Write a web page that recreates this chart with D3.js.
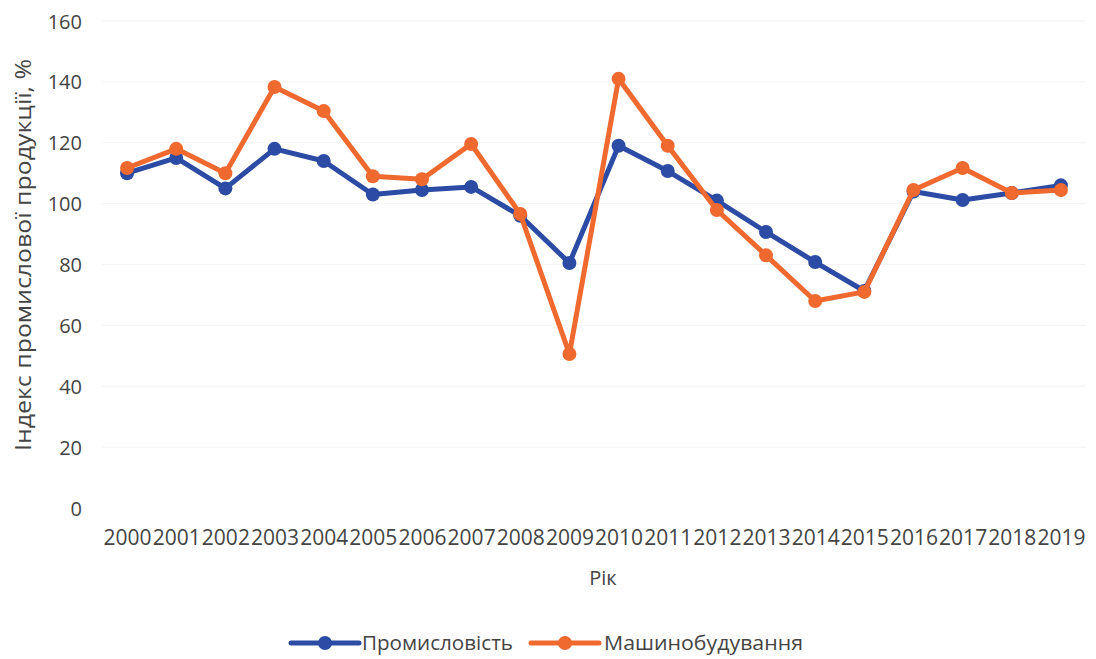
<!DOCTYPE html>
<html>
<head>
<meta charset="utf-8">
<script src="https://cdn.jsdelivr.net/npm/d3@7"></script>
<style>
  html, body { margin: 0; padding: 0; background: #fff; }
  svg { display: block; }
  text { font-family: "Open Sans", sans-serif; fill: #444; }
</style>
</head>
<body>
<svg id="chart" width="1096" height="659"></svg>
<script>
const years = ["2000","2001","2002","2003","2004","2005","2006","2007","2008","2009",
               "2010","2011","2012","2013","2014","2015","2016","2017","2018","2019"];
const industry = [110, 115, 105, 118, 114, 103, 104.5, 105.5, 96, 80.5,
                  119, 110.7, 101, 90.7, 80.8, 71.3, 104, 101.2, 103.5, 106];
const machinery = [111.7, 118, 110, 138.3, 130.4, 109, 108, 119.6, 96.6, 50.6,
                   141, 119, 97.9, 83, 68, 71, 104.5, 111.7, 103.5, 104.5];
const yTicks = [0, 20, 40, 60, 80, 100, 120, 140, 160];
const seriesNames = ["Промисловість", "Машинобудування"];
const yTitle = "Індекс промислової продукції, %";
const xTitle = "Рік";

const colors = ["#2b4ba4", "#f0692f"];
const svg = d3.select("#chart");

const x = d3.scalePoint().domain(years).range([102.5, 1085.5]).padding(0.5);
const y = d3.scaleLinear().domain([0, 160]).range([508, 21]);

// gridlines (very faint, as in the scanned original)
svg.append("g").selectAll("line").data(yTicks.filter(d => d > 0)).join("line")
  .attr("x1", 102).attr("x2", 1086)
  .attr("y1", d => y(d)).attr("y2", d => y(d))
  .attr("stroke", "#f3f3f3").attr("stroke-width", 1);

// y axis labels
const yAxis = d3.axisLeft(y).tickValues(yTicks).tickSize(0).tickPadding(0);
const gy = svg.append("g").attr("transform", "translate(82,0)").call(yAxis);
gy.select(".domain").remove();
gy.selectAll("text").style("font-size", "20px").attr("fill", "#444").attr("dy", "0.35em");

// x axis labels
const xAxis = d3.axisBottom(x).tickSize(0).tickPadding(0);
const gx = svg.append("g").attr("transform", "translate(0,530)").call(xAxis);
gx.select(".domain").remove();
gx.selectAll("text").style("font-size", "21px").attr("fill", "#333").attr("dy", "0.71em");

// axis titles
svg.append("text").attr("transform", "translate(31,255) rotate(-90)")
  .attr("text-anchor", "middle").style("font-size", "21px").attr("fill", "#444")
  .attr("textLength", 392).attr("lengthAdjust", "spacingAndGlyphs")
  .text(yTitle);
svg.append("text").attr("x", 603).attr("y", 585)
  .attr("text-anchor", "middle").style("font-size", "20px").attr("fill", "#444")
  .text(xTitle);

// series
const data = [industry, machinery];
const line = d3.line().x((d, i) => x(years[i])).y(d => y(d));
data.forEach((vals, k) => {
  const g = svg.append("g");
  g.append("path").datum(vals).attr("d", line)
    .attr("fill", "none").attr("stroke", colors[k]).attr("stroke-width", 5)
    .attr("stroke-linejoin", "round");
  g.selectAll("circle").data(vals).join("circle")
    .attr("cx", (d, i) => x(years[i])).attr("cy", d => y(d))
    .attr("r", 7).attr("fill", colors[k]);
});

// legend
const legendItems = [{x0: 291, tx: 362, len: 151}, {x0: 531, tx: 604, len: 199}];
legendItems.forEach((it, k) => {
  const g = svg.append("g");
  g.append("line").attr("x1", it.x0).attr("x2", it.x0 + 68)
    .attr("y1", 643).attr("y2", 643)
    .attr("stroke", colors[k]).attr("stroke-width", 5).attr("stroke-linecap", "round");
  g.append("circle").attr("cx", it.x0 + 34).attr("cy", 643).attr("r", 7).attr("fill", colors[k]);
  g.append("text").attr("x", it.tx).attr("y", 643).attr("dy", "0.35em")
    .style("font-size", "20px").attr("fill", "#444")
    .attr("textLength", it.len).attr("lengthAdjust", "spacingAndGlyphs")
    .text(seriesNames[k]);
});
</script>
</body>
</html>
